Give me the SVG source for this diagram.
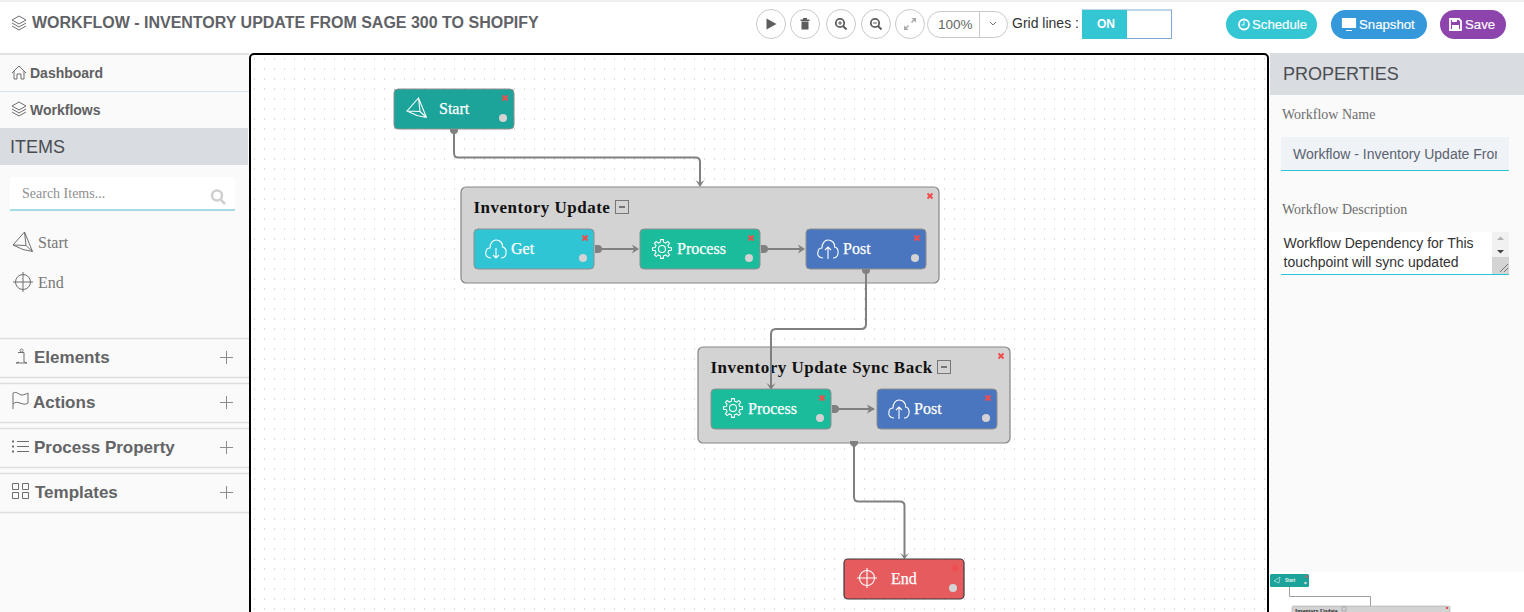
<svg xmlns="http://www.w3.org/2000/svg" width="1524" height="612" viewBox="0 0 1524 612">
<style>
.sans{font-family:"Liberation Sans",Arial,sans-serif}
.serif{font-family:"Liberation Serif","Times New Roman",serif}
.nav{font:bold 14px "Liberation Sans",Arial,sans-serif;fill:#5f6062}
.acc{font:bold 17px "Liberation Sans",Arial,sans-serif;fill:#636466}
.head{font:18px "Liberation Sans",Arial,sans-serif;fill:#4a4d52}
.lbl{font:16px "Liberation Serif",serif;fill:#777}
.lbl2{font:14px "Liberation Serif",serif;fill:#6d6d6d}
.ph{font:14px "Liberation Serif",serif;fill:#8f8f8f}
.nt{font:16px "Liberation Serif",serif;fill:#fff;stroke:#fff;stroke-width:.25}
.gt{font:bold 17px "Liberation Serif",serif;fill:#111;letter-spacing:.5px}
.btn{font:13.2px "Liberation Sans",Arial,sans-serif;fill:#fff;stroke:#fff;stroke-width:.15}
.ic{fill:none;stroke:#6e6e6e;stroke-width:1}
.wi{fill:none;stroke:#fff;stroke-width:1.1}
.sep{stroke:#dedede;stroke-width:1.5}
.tb{fill:#fff;stroke:#c9c9c9;stroke-width:1}
.tbi{fill:#5d5d5d}
.node{stroke:#8e8e8e;stroke-width:1}
.grp{fill:#d3d3d3;stroke:#858585;stroke-width:1.2}
.x{stroke:#f24b4b;stroke-width:2;fill:none}
.c{fill:#d3d3d3}
.conn{fill:none;stroke:#808080;stroke-width:2}
.hd{fill:#808080}
</style>
<defs>
<pattern id="grid" x="0" y="0" width="10" height="10" patternUnits="userSpaceOnUse"><rect x="4" y="8" width="1" height="2" fill="#dcdcdc"/></pattern>
<path id="cloud" class="wi" d="M-5 9C-9 9 -11 6 -10 3C-10 0 -8 -1 -6 -1C-6 -6 -3 -9 0 -9C4 -9 7 -6 6.500 -2C9 -2 10.500 1 10 4C10 7 8 9 5 9"/>
<g id="del"><path d="M-2.500 -2.500L2.500 2.500M2.500 -2.500L-2.500 2.500" class="x"/></g>
<g id="gear"><circle r="3.500" class="wi"/><path class="wi" d="M6.820 -1.570L9.410 -1.320L9.410 1.320L6.820 1.570L5.940 3.710L7.590 5.720L5.720 7.590L3.710 5.940L1.570 6.820L1.320 9.410L-1.320 9.410L-1.570 6.820L-3.710 5.940L-5.720 7.590L-7.590 5.720L-5.940 3.710L-6.820 1.570L-9.410 1.320L-9.410 -1.320L-6.820 -1.570L-5.940 -3.710L-7.590 -5.720L-5.720 -7.590L-3.710 -5.940L-1.570 -6.820L-1.320 -9.410L1.320 -9.410L1.570 -6.820L3.710 -5.940L5.720 -7.590L7.590 -5.720L5.940 -3.710Z"/></g>
<path id="dart" d="M-10 3L1.500 -10L9.500 9.500L3 3.500ZM-10 3L0 7.500L9.500 9.500M1.500 -10L3 3.500"/>
<g id="target"><circle r="7.500"/><path d="M-10 0H10M0 -10V10"/></g>
<path id="stack" d="M-7 -3L0 -7L7 -3L0 1ZM-7 0L0 4L7 0M-7 3L0 7L7 3"/>
</defs>

<rect width="1524" height="612" fill="#fff"/>
<rect width="1524" height="2" fill="#eeeeee"/>

<g id="sidebar">
<rect x="0" y="54" width="249" height="558" fill="#fafafa"/>
<rect x="0" y="53" width="249" height="2" fill="#e2e2e2"/>
<use href="#stack" x="19" y="109" class="ic"/>
<path d="M12 73L19 66L26 73M14 71V79H17V74H21V79H24V71" class="ic"/>
<text class="nav" x="30" y="78">Dashboard</text>
<line x1="0" y1="91.500" x2="249" y2="91.500" stroke="#d5e5ea"/>
<text class="nav" x="30" y="115">Workflows</text>
<rect x="0" y="128" width="248" height="37" fill="#d9dce0"/>
<text class="head" x="10" y="153">ITEMS</text>
<rect x="10" y="177" width="225" height="33" rx="2" fill="#fff"/>
<line x1="10" y1="210" x2="235" y2="210" stroke="#4dbfcc" stroke-width="1.200"/>
<text class="ph" x="22" y="198">Search Items...</text>
<circle cx="217" cy="195.500" r="5" fill="none" stroke="#cfcfcf" stroke-width="2.500"/>
<line x1="221" y1="200" x2="225" y2="204" stroke="#cfcfcf" stroke-width="2.500"/>
<use href="#dart" x="23" y="242" class="ic"/>
<text class="lbl" x="38" y="248">Start</text>
<use href="#target" x="23" y="282" class="ic"/>
<text class="lbl" x="38" y="288">End</text>

<line class="sep" x1="0" y1="338.500" x2="249" y2="338.500"/><line class="sep" x1="0" y1="377.500" x2="249" y2="377.500"/>
<line class="sep" x1="0" y1="383.500" x2="249" y2="383.500"/><line class="sep" x1="0" y1="422.500" x2="249" y2="422.500"/>
<line class="sep" x1="0" y1="428.500" x2="249" y2="428.500"/><line class="sep" x1="0" y1="467.500" x2="249" y2="467.500"/>
<line class="sep" x1="0" y1="473.500" x2="249" y2="473.500"/><line class="sep" x1="0" y1="512.500" x2="249" y2="512.500"/>

<path d="M18 352.500H24V362L27 363H16L19 362M21.500 349a1.500 1.500 0 1 0 .1 0" class="ic"/>
<text class="acc" x="34" y="363">Elements</text>
<path d="M13 409V393C17 391 19 395 22 395C24 395 26 394 28 393V403C25 405 23 404 20 403C17 402 15 402 13 404" class="ic"/>
<text class="acc" x="33" y="408">Actions</text>
<path d="M12 441.500h2M12 446.500h2M12 451.500h2" stroke="#6e6e6e" stroke-width="2"/>
<path d="M17 441.500H29M17 446.500H29M17 451.500H29" class="ic"/>
<text class="acc" x="34" y="453">Process Property</text>
<path d="M12.500 483.500h6v6h-6zM22.500 483.500h6v6h-6zM12.500 492.500h6v6h-6zM22.500 492.500h6v6h-6z" class="ic"/>
<text class="acc" x="35" y="498">Templates</text>
<path d="M220 357.500H233M226.500 351V364M220 402.500H233M226.500 396V409M220 447.500H233M226.500 441V454M220 492.500H233M226.500 486V499" stroke="#8d8d8d" fill="none"/>
</g>

<g id="topbar">
<use href="#stack" x="19" y="23" class="ic"/>
<text class="sans" x="32" y="28" font-size="16" font-weight="700" fill="#5f6266">WORKFLOW - INVENTORY UPDATE FROM SAGE 300 TO SHOPIFY</text>
<circle class="tb" cx="771" cy="24" r="14.500"/><path class="tbi" d="M766.500 18.500L776.500 24L766.500 29.500Z"/>
<circle class="tb" cx="805" cy="24" r="14.500"/><path class="tbi" d="M800.500 19.500h9v1.500h-9zM803 18h4v1.500h-4zM801.500 21.500h7v8h-7z"/>
<circle class="tb" cx="841" cy="24" r="14.500"/><circle cx="840" cy="23" r="4.200" fill="none" stroke="#5d5d5d" stroke-width="1.800"/><path d="M843 26L846.500 29.500" stroke="#5d5d5d" stroke-width="2"/><path d="M838 23H842M840 21V25" stroke="#5d5d5d"/>
<circle class="tb" cx="876" cy="24" r="14.500"/><circle cx="875" cy="23" r="4.200" fill="none" stroke="#5d5d5d" stroke-width="1.800"/><path d="M878 26L881.500 29.500" stroke="#5d5d5d" stroke-width="2"/><path d="M873 23H877" stroke="#5d5d5d"/>
<circle class="tb" cx="910" cy="24" r="14.500"/><path d="M905 29L908.500 25.500M911.500 22.500L915 19" stroke="#a8a8a8" stroke-width="1.500"/><path d="M904 25.500V30H908.500ZM911.500 18H916V22.500Z" fill="#a8a8a8"/>
<rect class="tb" x="927.500" y="11.500" width="80" height="26" rx="13"/><line x1="979.500" y1="12" x2="979.500" y2="37" stroke="#c9c9c9"/>
<text class="sans" x="938" y="29" font-size="13.500" fill="#666">100%</text>
<path d="M990 22L993 25L996 22" fill="none" stroke="#777"/>
<text class="sans" x="1012" y="28" font-size="14" fill="#333">Grid lines :</text>
<rect x="1082.500" y="10" width="89" height="28.500" fill="#fff" stroke="#7fa9d4"/>
<rect x="1082" y="10" width="45" height="29" fill="#35c6d4"/>
<text class="sans" x="1097" y="28" font-size="12" font-weight="700" fill="#fff">ON</text>
<rect x="1226" y="10" width="91" height="29" rx="14.500" fill="#35c6d4"/>
<circle cx="1244" cy="24.500" r="5" fill="none" stroke="#fff" stroke-width="1.800"/><path d="M1244 21.500V25H1241.500" fill="none" stroke="#fff"/>
<text class="btn" x="1252" y="29">Schedule</text>
<rect x="1331" y="10" width="96" height="29" rx="14.500" fill="#3498db"/>
<path d="M1342.500 18.500h13v9h-13zM1346 30.500h6" fill="#fff" stroke="#fff" stroke-width="1.200"/>
<text class="btn" x="1359" y="29">Snapshot</text>
<rect x="1440" y="10" width="66" height="29" rx="14.500" fill="#8e44ad"/>
<path d="M1450 19h9l2 2v9h-11z" fill="none" stroke="#fff" stroke-width="1.800"/><path d="M1452 25h7v4h-7zM1452 19.500h5v2.500h-5z" fill="#fff"/>
<text class="btn" x="1465" y="29">Save</text>
</g>

<g id="canvas">
<rect x="250" y="54" width="1018" height="570" rx="4" fill="#fff"/>
<rect x="250" y="54" width="1018" height="570" rx="4" fill="url(#grid)"/>
<rect x="250" y="54" width="1018" height="570" rx="4" fill="none" stroke="#000" stroke-width="2"/>
</g>

<g id="group-inventory-update">
<rect class="grp" x="461" y="187" width="478" height="96" rx="5"/>
<text class="gt" x="473.500" y="213">Inventory Update</text>
<rect x="615.500" y="200.500" width="13" height="13" fill="#d3d3d3" stroke="#777" stroke-width="1"/><path d="M619 207H625" stroke="#555" stroke-width="1.500"/>
<use href="#del" x="930" y="196"/>
</g>
<g id="group-sync-back">
<rect class="grp" x="698" y="347" width="312" height="96" rx="5"/>
<text class="gt" x="710.500" y="373">Inventory Update Sync Back</text>
<rect x="937.500" y="360.500" width="13" height="13" fill="#d3d3d3" stroke="#777" stroke-width="1"/><path d="M941 367H947" stroke="#555" stroke-width="1.500"/>
<use href="#del" x="1001" y="356"/>
</g>

<g id="connectors">
<path class="conn" d="M454 130V153Q454 157.500 458 157.500H695.500Q700 157.500 700 162V186"/>
<path class="hd" d="M450 128H458V130A4 4 0 0 1 450 130Z"/><path class="hd" d="M695.500 180L700 183L704.500 180L700 187Z"/>
<path class="conn" d="M595 249H637"/><path class="hd" d="M595 245H598A4 4 0 0 1 598 253H595Z"/><path class="hd" d="M632 244.500L639 249L632 253.500L634 249Z"/>
<path class="conn" d="M761 249H803"/><path class="hd" d="M761 245H764A4 4 0 0 1 764 253H761Z"/><path class="hd" d="M798 244.500L805 249L798 253.500L800 249Z"/>
<path class="conn" d="M866 270V324Q866 329 861 329H776Q771 329 771 334V388"/>
<path class="hd" d="M862 268H870V270A4 4 0 0 1 862 270Z"/><path class="hd" d="M766.500 383L771 386L775.500 383L771 390Z"/>
<path class="conn" d="M832 409H874"/><path class="hd" d="M832 405H835A4 4 0 0 1 835 413H832Z"/><path class="hd" d="M867 404.500L875 409L867 413.500L869 409Z"/>
<path class="conn" d="M854 444V497Q854 501.500 858.500 501.500H900Q904.500 501.500 904.500 506V558"/>
<path class="hd" d="M850 441H858V444L854 448L850 444Z"/><path class="hd" d="M900 553L904.500 556L909 553L904.500 559Z"/>
</g>

<g id="node-start">
<rect class="node" x="394" y="89" width="120" height="40" rx="4" fill="#1ca39a"/>
<use href="#dart" x="417" y="108" class="wi"/>
<text class="nt" x="439" y="114">Start</text><use href="#del" x="505" y="98"/><circle class="c" cx="503" cy="118" r="4"/>
</g>
<g id="node-get">
<rect class="node" x="474" y="229" width="120" height="40" rx="4" fill="#30c5d5"/>
<use href="#cloud" x="496" y="249"/><path class="wi" d="M496 248V258M493 255L496 258L499 255"/>
<text class="nt" x="511" y="254">Get</text><use href="#del" x="585" y="238"/><circle class="c" cx="583" cy="258" r="4"/>
</g>
<g id="node-process-1">
<rect class="node" x="640" y="229" width="120" height="40" rx="4" fill="#1abc9c"/>
<use href="#gear" x="662" y="249"/>
<text class="nt" x="677" y="254">Process</text><use href="#del" x="751" y="238"/><circle class="c" cx="749" cy="258" r="4"/>
</g>
<g id="node-post-1">
<rect class="node" x="806" y="229" width="120" height="40" rx="4" fill="#4a76c0"/>
<use href="#cloud" x="828" y="249"/><path class="wi" d="M828 259V247M825 250L828 247L831 250"/>
<text class="nt" x="843" y="254">Post</text><use href="#del" x="917" y="238"/><circle class="c" cx="915" cy="258" r="4"/>
</g>
<g id="node-process-2">
<rect class="node" x="711" y="389" width="120" height="40" rx="4" fill="#1abc9c"/>
<use href="#gear" x="733" y="408"/>
<text class="nt" x="748" y="414">Process</text><use href="#del" x="822" y="398"/><circle class="c" cx="820" cy="418" r="4"/>
</g>
<g id="node-post-2">
<rect class="node" x="877" y="389" width="120" height="40" rx="4" fill="#4a76c0"/>
<use href="#cloud" x="899" y="409"/><path class="wi" d="M899 419V407M896 410L899 407L902 410"/>
<text class="nt" x="914" y="414">Post</text><use href="#del" x="988" y="398"/><circle class="c" cx="986" cy="418" r="4"/>
</g>
<g id="node-end">
<rect x="844" y="559" width="120" height="40" rx="4" fill="#e55b5e" stroke="#3a3a3a" stroke-width="1.200"/>
<use href="#target" x="867" y="578" class="wi"/>
<text class="nt" x="891" y="584">End</text><use href="#del" x="955" y="568"/><circle class="c" cx="953" cy="588" r="4"/>
</g>

<g id="properties">
<rect x="1269" y="55" width="255" height="517" fill="#fafafa"/>
<rect x="1270" y="53" width="254" height="42" fill="#d9dce0"/>
<text class="head" x="1283" y="80">PROPERTIES</text>
<text class="lbl2" x="1282" y="119">Workflow Name</text>
<rect x="1281" y="137" width="228" height="33" fill="#eff2f6"/>
<line x1="1281" y1="170.500" x2="1509" y2="170.500" stroke="#2ec5d6"/>
<svg x="1281" y="137" width="216" height="33" viewBox="0 0 216 33"><text class="sans" x="12" y="22" font-size="14" fill="#5a6270">Workflow - Inventory Update From</text></svg>
<text class="lbl2" x="1282" y="214">Workflow Description</text>
<rect x="1281" y="232" width="228" height="42" fill="#fff"/>
<line x1="1281" y1="274.500" x2="1509" y2="274.500" stroke="#2ec5d6"/>
<text class="sans" x="1283.500" y="248" font-size="14" fill="#333">Workflow Dependency for This</text>
<text class="sans" x="1283.500" y="267" font-size="14" fill="#333">touchpoint will sync updated</text>
<rect x="1492" y="232" width="17" height="42" fill="#f1f1f1"/>
<rect x="1492" y="257" width="17" height="17" fill="#d4d4d4"/>
<path d="M1497 240L1500.500 236.500L1504 240Z" fill="#b0b0b0"/><path d="M1497 250L1500.500 253.500L1504 250Z" fill="#444"/>
<path d="M1500 272L1508 264M1504 272L1508 268" stroke="#777"/>
</g>

<g id="minimap">
<rect x="1269" y="572" width="255" height="40" fill="#fff"/>
<rect x="1270" y="574" width="39" height="13" rx="1.500" fill="#1ca39a"/>
<path d="M1274 581L1280 577L1279 583Z" fill="none" stroke="#fff" stroke-width=".5"/>
<text class="sans" x="1285" y="582" font-size="4.500" font-weight="700" fill="#e6f5f3">Start</text>
<rect x="1305.500" y="575.500" width="2" height="2" fill="#f24b4b"/><circle cx="1305.500" cy="583" r="1.300" fill="#d3d3d3"/>
<path d="M1289.500 587V596.500H1370.500V606" fill="none" stroke="#888" stroke-width=".8"/>
<rect x="1292" y="606" width="158" height="8" rx="1.500" fill="#d3d3d3" stroke="#999" stroke-width=".5"/>
<text class="serif" x="1295" y="612.500" font-size="5.600" font-weight="700" fill="#222">Inventory Update</text>
<rect x="1342" y="607" width="4" height="4" fill="#d3d3d3" stroke="#888" stroke-width=".5"/>
<rect x="1446" y="607" width="2" height="2" fill="#f24b4b"/>
</g>
</svg>
